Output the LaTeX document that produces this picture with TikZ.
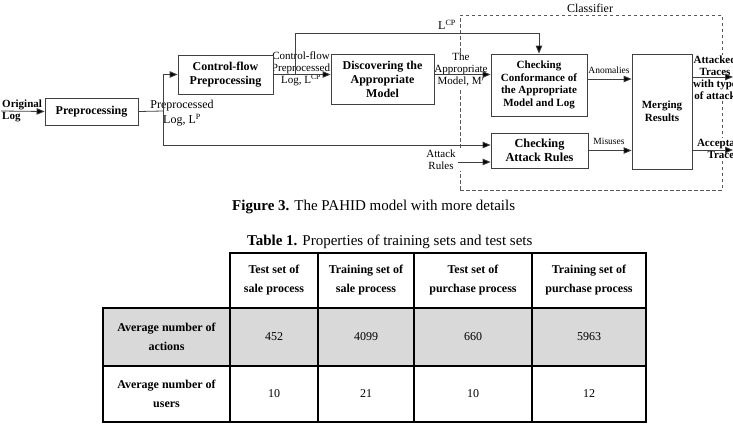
\documentclass[tikz,border=0pt]{standalone}
\usepackage{fontspec}
\setmainfont{Liberation Serif}
\usetikzlibrary{arrows.meta, positioning, calc}
\definecolor{cellgray}{HTML}{D9D9D9}
\definecolor{linegray}{HTML}{404040}

\begin{document}
\begin{tikzpicture}[x=1pt, y=-1pt,
    box/.style={draw=linegray, line width=0.8pt, fill=white, align=center, inner sep=1pt, font=\bfseries\fontsize{12}{14}\selectfont},
    lbl/.style={align=center, inner sep=1pt, font=\fontsize{11}{12}\selectfont},
    outlbl/.style={align=center, inner sep=1pt, fill=white, font=\bfseries\fontsize{11}{12}\selectfont},
    arr/.style={-{Triangle[length=8pt, width=6.5pt, fill=black]}, draw=linegray, line width=0.8pt},
    ln/.style={draw=linegray, line width=0.8pt},
    tbl/.style={draw=black, line width=1.6pt},
    cell/.style={align=center, inner sep=1pt, font=\fontsize{12}{19}\selectfont}]
    \useasboundingbox (0,0) rectangle (733,424);
    \clip (0,0) rectangle (733,424);

    % classifier frame
    \node[draw=black!65, dashed, dash pattern=on 3.5pt off 2.5pt, line width=0.8pt, minimum width=262pt, minimum height=175pt] (clsf) at (591,102.5) {};
    \node[lbl, font=\fontsize{12}{13}\selectfont] (clsflbl) at (590,8) {Classifier};

    % edge labels
    \node[lbl, font=\bfseries\fontsize{11}{11.5}\selectfont, align=left, anchor=west] (orig) at (1,111) {Original\\Log};
    \node[lbl, font=\fontsize{12}{15}\selectfont] (pplbl) at (182,113) {Preprocessed\\Log, L$^{\mathrm{P}}$};
    \node[lbl] (cflbl) at (301,69) {Control-flow\\Preprocessed\\Log, L$^{\mathrm{CP}}$};
    \node[lbl, font=\fontsize{12}{13}\selectfont] (lcplbl) at (447,25) {L$^{\mathrm{CP}}$};
    \node[lbl, fill=white, inner xsep=2pt] (mlbl) at (461,70) {The\\Appropriate\\Model, M$'$};
    \node[lbl, fill=white, minimum width=42pt] (rlbl) at (441,160) {Attack\\Rules};
    \node[lbl, font=\fontsize{9.5}{10}\selectfont] (anlbl) at (609,70) {Anomalies};
    \node[lbl, font=\fontsize{9.5}{10}\selectfont] (mislbl) at (609,141) {Misuses};
    \node[outlbl] (attlbl) at (715,78) {Attacked\\Traces\\with type\\of attack};
    \node[outlbl] (acclbl) at (723,149) {Acceptable\\Traces};

    % boxes
    \node[box, minimum width=93pt, minimum height=27pt] (pre) at (91.5,111.5) {Preprocessing};
    \node[box, minimum width=95pt, minimum height=39pt] (cfp) at (225.5,74.5) {Control-flow\\Preprocessing};
    \node[box, minimum width=103pt, minimum height=50pt] (disc) at (382.5,79) {Discovering the\\Appropriate\\Model};
    \node[box, minimum width=96pt, minimum height=62pt, font=\bfseries\fontsize{11}{12.7}\selectfont] (conf) at (539,85) {Checking\\Conformance of\\the Appropriate\\Model and Log};
    \node[box, minimum width=97pt, minimum height=35pt, font=\bfseries\fontsize{12.3}{14}\selectfont] (atk) at (539.5,150.5) {Checking\\Attack Rules};
    \node[box, minimum width=60pt, minimum height=115pt, font=\bfseries\fontsize{11}{13}\selectfont] (merge) at (662,111.5) {Merging\\Results};

    % connectors
    \coordinate (src) at (1,111);
    \coordinate (split) at (163,111);
    \coordinate (tap) at (295,75);
    \coordinate (top) at (295,33);
    \coordinate (rules) at (458,162);
    \coordinate (out1) at (733,77);
    \coordinate (out2) at (733,150);
    \draw[arr] (src) -- (pre.west);
    \draw[ln] (pre.east) -- (split);
    \draw[arr] (split) |- (cfp.west);
    \draw[arr] (split) |- ([yshift=5.5pt]atk.west);
    \draw[arr] (cfp.east) -- (cfp.east -| disc.west);
    \draw[arr] (tap) -- (top) -| (conf.north);
    \draw[arr] (disc.east |- cfp.east) -- (conf.west |- cfp.east);
    \draw[arr] ([yshift=6pt]conf.east) -- ([yshift=6pt]conf.east -| merge.west);
    \draw[arr] (atk.east) -- (atk.east -| merge.west);
    \draw[arr] (rules) -- (rules -| atk.west);
    \draw[arr] (merge.east |- out1) -- (out1);
    \draw[arr] (merge.east |- out2) -- (out2);

    % captions
    \node[anchor=west, inner sep=0pt, font=\fontsize{15}{16}\selectfont] (figcap) at (232,207) {\textbf{Figure 3.} The PAHID model with more details};
    \node[anchor=west, inner sep=0pt, font=\fontsize{15}{16}\selectfont] (tabcap) at (247,242) {\textbf{Table 1.} Properties of training sets and test sets};

    % table
    \fill[cellgray] (103,308) rectangle (646,366);
    \draw[tbl] (230,253) rectangle (646,308);
    \draw[tbl] (103,308) rectangle (646,422);
    \draw[tbl] (103,366) -- (646,366);
    \draw[tbl] (230,308) -- (230,422);
    \draw[tbl] (318,253) -- (318,422);
    \draw[tbl] (414,253) -- (414,422);
    \draw[tbl] (532,253) -- (532,422);

    \node[cell, font=\bfseries\fontsize{12}{19}\selectfont] (h1) at (274,280) {Test set of\\sale process};
    \node[cell, font=\bfseries\fontsize{12}{19}\selectfont] (h2) at (366,280) {Training set of\\sale process};
    \node[cell, font=\bfseries\fontsize{12}{19}\selectfont] (h3) at (473,280) {Test set of\\purchase process};
    \node[cell, font=\bfseries\fontsize{12}{19}\selectfont] (h4) at (589,280) {Training set of\\purchase process};
    \node[cell, font=\bfseries\fontsize{12}{19}\selectfont] (r1) at (166.5,337) {Average number of\\actions};
    \node[cell, font=\bfseries\fontsize{12}{19}\selectfont] (r2) at (166.5,393.5) {Average number of\\users};
    \node[cell] (v11) at (274,337) {452};
    \node[cell] (v12) at (366,337) {4099};
    \node[cell] (v13) at (473,337) {660};
    \node[cell] (v14) at (589,337) {5963};
    \node[cell] (v21) at (274,393.5) {10};
    \node[cell] (v22) at (366,393.5) {21};
    \node[cell] (v23) at (473,393.5) {10};
    \node[cell] (v24) at (589,393.5) {12};
\end{tikzpicture}
\end{document}
